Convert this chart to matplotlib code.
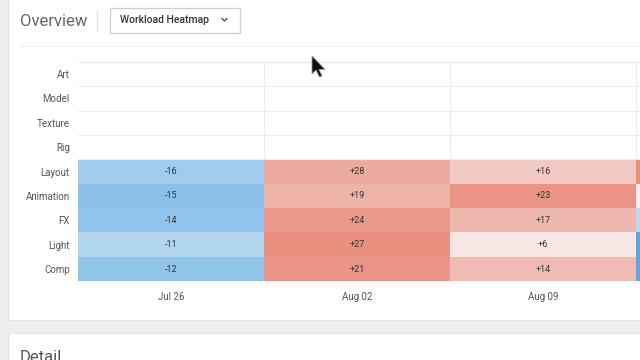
import numpy as np
import matplotlib
matplotlib.use("Agg")
import matplotlib.pyplot as plt
from matplotlib.colors import LinearSegmentedColormap
from matplotlib.patches import Rectangle, Polygon

plt.rcParams['font.family'] = ['Roboto', 'DejaVu Sans']

weeks = ["Jul 26", "Aug 02", "Aug 09", "Aug 16"]
visible_weeks = 3
roles = ["Art", "Model", "Texture", "Rig", "Layout", "Animation", "FX", "Light", "Comp"]
# change in workload per role (rows Layout..Comp), one list per week
delta_jul26 = [-16, -15, -14, -11, -12]
delta_aug02 = [28, 19, 24, 27, 21]
delta_aug09 = [16, 23, 17, 6, 14]
delta_aug16 = [22, 3, -7, -21, -19]
# colour load (relative intensity) per cell, same layout
load_jul26 = [-0.45, -0.60, -0.55, -0.34, -0.55]
load_aug02 = [0.58, 0.52, 0.74, 0.80, 0.77]
load_aug09 = [0.33, 0.77, 0.48, 0.10, 0.46]
load_aug16 = [0.80, 0.04, -0.30, -0.90, -0.88]
empty_rows = 4

W, H = 640, 360
fig = plt.figure(figsize=(W / 100, H / 100), dpi=100)
fig.patch.set_facecolor('#efefef')

def px(x, y, w, h):
    return [x / W, 1 - (y + h) / H, w / W, h / H]

# cards
bg = fig.add_axes([0, 0, 1, 1])
bg.set_xlim(0, W); bg.set_ylim(H, 0); bg.axis('off')
bg.add_patch(Rectangle((8, -2), W, 322, facecolor='white', edgecolor='#e4e4e4', lw=0.8))
bg.add_patch(Rectangle((8, 333), W, 40, facecolor='white', edgecolor='#e4e4e4', lw=0.8))
bg.text(20, 21, "Overview", fontsize=12, color='#666666', va='center', ha='left')
bg.plot([97, 97], [10, 31], color='#e2e2e2', lw=0.9)
bg.add_patch(Rectangle((109.5, 7.5), 130, 25, facecolor='white', edgecolor='#cfcfcf', lw=0.9))
bg.text(120, 20, "Workload Heatmap", fontsize=7.5, color='#333333', va='center', ha='left',
        fontweight='medium')
bg.plot([222, 224.5, 227], [18.5, 21, 18.5], color='#444444', lw=0.9)
bg.plot([20, W], [45.5, 45.5], color='#eeeeee', lw=0.8)
bg.text(20, 357, "Detail", fontsize=12, color='#555555', va='center', ha='left')

# heatmap
top, bottom = 61.8, 281.2
col_w = 186
ax = fig.add_axes(px(78, top, col_w * len(weeks), bottom - top))
deltas = [delta_jul26, delta_aug02, delta_aug09, delta_aug16]
loads = [load_jul26, load_aug02, load_aug09, load_aug16]
Z = np.full((len(roles), len(weeks)), np.nan)
for j, col in enumerate(loads):
    for i, v in enumerate(col):
        Z[empty_rows + i, j] = v
cmap = LinearSegmentedColormap.from_list(
    'div', [(0.0, '#4a9ddc'), (0.33, '#b3d6f0'), (0.5, '#f8f3f2'), (1.0, '#e57866')])
cmap.set_bad('white')
ax.pcolormesh(np.arange(len(weeks) + 1), np.arange(len(roles) + 1), np.ma.masked_invalid(Z),
              cmap=cmap, vmin=-1, vmax=1)
ax.set_xlim(0, len(weeks)); ax.set_ylim(len(roles), 0)
for j, col in enumerate(deltas[:visible_weeks]):
    for i, v in enumerate(col):
        ax.text(j + 0.5, empty_rows + i + 0.5, f"{v:+d}", ha='center', va='center',
                fontsize=6.5, color='#333333')
for k in range(empty_rows + 1):
    ax.axhline(k, color='#ececec', lw=0.8, zorder=3)
for j in range(1, len(weeks)):
    ax.plot([j, j], [0, empty_rows], color='#ececec', lw=0.8, zorder=3)
ax.set_xticks(np.arange(visible_weeks) + 0.5)
ax.set_xticklabels(weeks[:visible_weeks], fontsize=7, color='#555555')
ax.set_yticks(np.arange(len(roles)) + 0.5)
ax.set_yticklabels(roles, fontsize=7, color='#555555')
ax.tick_params(length=0, pad=6)
ax.tick_params(axis='x', pad=8)
for s in ax.spines.values():
    s.set_visible(False)

# mouse cursor
cur = fig.add_axes([0, 0, 1, 1]); cur.set_xlim(0, W); cur.set_ylim(H, 0); cur.axis('off')
cur.add_patch(Polygon([(312, 56), (312, 74), (316, 70), (319.5, 77), (322, 76), (319, 69.5), (325, 69.5)],
                      closed=True, facecolor='#111111', edgecolor='#999999', lw=0.6))

fig.savefig("out.png", dpi=100, facecolor=fig.get_facecolor())
